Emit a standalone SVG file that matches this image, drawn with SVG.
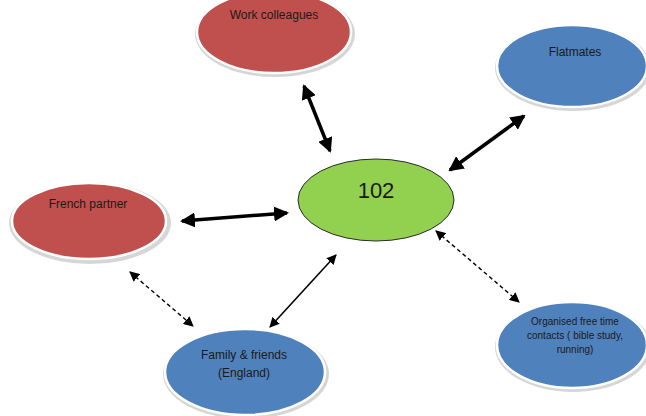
<svg xmlns="http://www.w3.org/2000/svg" width="646" height="416" viewBox="0 0 646 416">
<style>
.rim{fill:#d6d6d6}
.red{fill:#c0504d;stroke:#fff;stroke-width:2.5}
.blue{fill:#4f81bd;stroke:#fff;stroke-width:2.5}
.green{fill:#92d050;stroke:#2b2b2b;stroke-width:1}
text{font-family:"Liberation Sans",Arial,sans-serif;fill:#1a1a1a;text-anchor:middle}
.t{font-size:12px}
.s{font-size:10px}
.big{font-size:22px}
.thick{stroke:#000;stroke-width:3.5;fill:none;marker-start:url(#hb);marker-end:url(#hb)}
.thin{stroke:#000;stroke-width:1.6;fill:none;marker-start:url(#hs);marker-end:url(#hs)}
.dash{stroke:#000;stroke-width:1.4;fill:none;stroke-dasharray:4 3;marker-start:url(#hs);marker-end:url(#hs)}
</style>
<defs>
<marker id="hb" markerUnits="userSpaceOnUse" viewBox="0 0 15 15" refX="13" refY="7.5" markerWidth="15" markerHeight="15" orient="auto-start-reverse"><path d="M0,0 L15,7.5 L0,15 Z" fill="#000"/></marker>
<marker id="hs" markerUnits="userSpaceOnUse" viewBox="0 0 10 10" refX="9" refY="5" markerWidth="10" markerHeight="10" orient="auto-start-reverse"><path d="M0,0 L10,5 L0,10 Z" fill="#000"/></marker>
</defs>
<rect width="646" height="416" fill="#fff"/>
<g id="connectors">
<line class="thick" x1="304" y1="86" x2="330" y2="151"/>
<line class="thick" x1="524" y1="116" x2="450" y2="170"/>
<line class="thick" x1="182" y1="221" x2="287" y2="213"/>
<line class="thin" x1="270" y1="327" x2="336" y2="255"/>
<line class="dash" x1="130" y1="272" x2="193" y2="326"/>
<line class="dash" x1="436" y1="231" x2="519" y2="302"/>
</g>
<g id="work">
<ellipse class="rim" cx="275" cy="34" rx="80" ry="43"/>
<ellipse class="red" cx="274" cy="32" rx="77" ry="41"/>
<text class="t" x="274" y="19">Work colleagues</text>
</g>
<g id="flatmates">
<ellipse class="rim" cx="573" cy="68" rx="78" ry="43"/>
<ellipse class="blue" cx="572" cy="66" rx="75" ry="41"/>
<text class="t" x="575" y="56">Flatmates</text>
</g>
<g id="center">
<ellipse class="green" cx="376" cy="200" rx="78" ry="41"/>
<text class="big" x="376" y="198">102</text>
</g>
<g id="french">
<ellipse class="rim" cx="90" cy="223" rx="81" ry="41"/>
<ellipse class="red" cx="89" cy="221" rx="77" ry="38"/>
<text class="t" x="88" y="208">French partner</text>
</g>
<g id="family">
<ellipse class="rim" cx="246" cy="374" rx="83" ry="45"/>
<ellipse class="blue" cx="245" cy="372" rx="80" ry="43"/>
<text class="t" x="244" y="359">Family &amp; friends</text>
<text class="t" x="244" y="377">(England)</text>
</g>
<g id="organised">
<ellipse class="rim" cx="573" cy="347" rx="78" ry="45"/>
<ellipse class="blue" cx="572" cy="345" rx="75" ry="43"/>
<text class="s" x="575" y="325">Organised free time</text>
<text class="s" x="575" y="339">contacts ( bible study,</text>
<text class="s" x="575" y="353">running)</text>
</g>
</svg>
